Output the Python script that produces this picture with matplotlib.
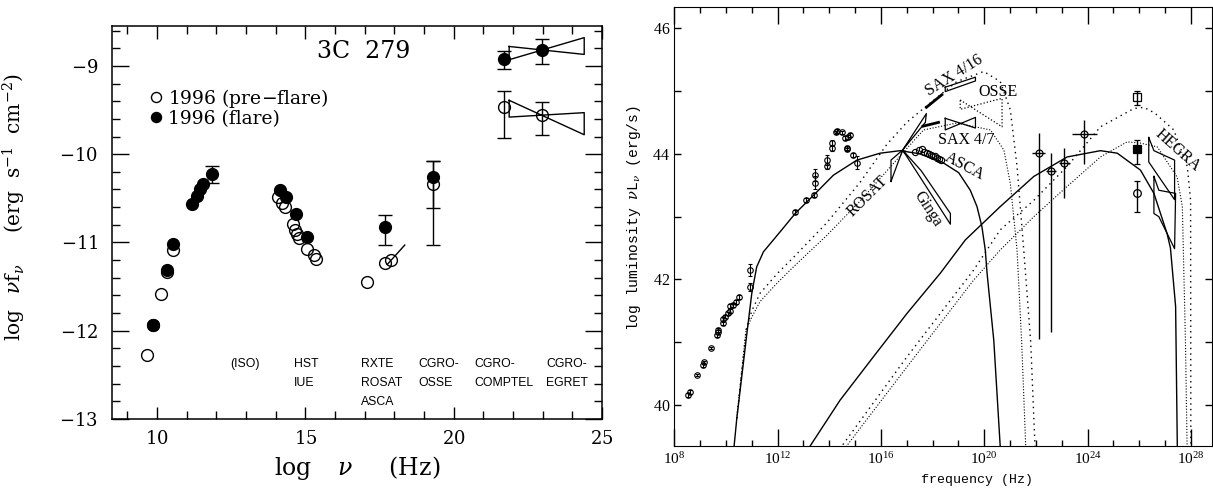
import numpy as np
import matplotlib.pyplot as plt
from matplotlib.ticker import MultipleLocator, FixedLocator, LogLocator, NullFormatter, FuncFormatter, LogFormatterMathtext

plt.rcParams['mathtext.fontset'] = 'dejavuserif'
plt.rcParams['axes.formatter.use_mathtext'] = True

# ---------------- left panel: 3C 279, log nu vs log nu f_nu ----------------
pre_x = [9.67, 9.88, 10.14, 10.33, 10.55, 14.08, 14.20, 14.30, 14.57, 14.66, 14.72, 14.77,
         15.06, 15.28, 15.36, 17.07, 17.68, 17.87, 19.30, 21.68, 22.99]
pre_y = [-12.27, -11.94, -11.58, -11.33, -11.08, -10.48, -10.55, -10.60, -10.79, -10.86, -10.91, -10.95,
         -11.07, -11.14, -11.19, -11.45, -11.23, -11.20, -10.34, -9.47, -9.56]
flare_x = [9.88, 10.33, 10.55, 11.17, 11.34, 11.46, 11.56, 11.85, 14.13, 14.36, 14.69, 15.06,
           17.68, 19.30, 21.68, 22.99]
flare_y = [-11.93, -11.31, -11.02, -10.57, -10.47, -10.40, -10.34, -10.22, -10.41, -10.49, -10.68, -10.94,
           -10.83, -10.26, -8.92, -8.82]

# error bars (centre, low, high)
flare_err_x = [11.85, 17.68, 19.30, 21.68, 22.99]
flare_err_y = [-10.22, -10.83, -10.26, -8.92, -8.82]
flare_err_lo = [-10.33, -11.03, -10.61, -9.04, -8.98]
flare_err_hi = [-10.13, -10.69, -10.08, -8.83, -8.70]
pre_err_x = [19.30, 21.68, 22.99]
pre_err_y = [-10.34, -9.47, -9.56]
pre_err_lo = [-11.03, -9.82, -9.78]
pre_err_hi = [-10.08, -9.29, -9.41]

# EGRET bowties: two edge lines between x ends
bow_x = [21.87, 24.40]
flare_bow_a = [-8.78, -8.87]
flare_bow_b = [-8.93, -8.68]
pre_bow_a = [-9.39, -9.78]
pre_bow_b = [-9.58, -9.53]

# ASCA spectral slope
asca_x = [17.76, 18.35]
asca_y = [-11.25, -11.03]

inst_labels = ['(ISO)', 'HST\nIUE', 'RXTE\nROSAT\nASCA', 'CGRO-\nOSSE', 'CGRO-\nCOMPTEL', 'CGRO-\nEGRET']
inst_x = [12.47, 14.61, 16.89, 18.81, 20.71, 23.11]

# ---------------- right panel: log frequency vs log luminosity ----------------
lowf_lx = [8.54, 8.61, 8.87, 9.12, 9.15, 9.42, 9.67, 9.69, 9.71, 9.90, 9.90, 9.97, 10.09, 10.16,
           10.16, 10.29, 10.39, 10.50, 10.95, 10.95, 12.68, 13.09, 13.39, 13.45, 13.45, 13.93,
           13.93, 14.10, 14.12, 14.26, 14.30, 14.49, 14.62, 14.74, 14.81, 14.68, 14.70, 14.90, 15.07]
lowf_y = [40.16, 40.21, 40.48, 40.64, 40.68, 40.91, 41.11, 41.16, 41.19, 41.30, 41.37, 41.41, 41.46,
          41.50, 41.58, 41.59, 41.64, 41.72, 41.88, 42.15, 43.08, 43.26, 43.34, 43.54, 43.66, 43.81,
          43.90, 44.09, 44.18, 44.34, 44.36, 44.34, 44.25, 44.27, 44.30, 44.09, 44.07, 43.98, 43.86]
lowf_err = [0.03, 0.03, 0.02, 0.03, 0.03, 0.02, 0.03, 0.03, 0.03, 0.03, 0.03, 0.03, 0.03, 0.03,
            0.03, 0.03, 0.03, 0.03, 0.06, 0.09, 0.03, 0.03, 0.03, 0.10, 0.10, 0.05,
            0.08, 0.04, 0.04, 0.03, 0.03, 0.03, 0.03, 0.03, 0.03, 0.03, 0.03, 0.03, 0.10]

asca_pts_lx = [17.33, 17.46, 17.59, 17.68, 17.78, 17.86, 17.94, 18.02, 18.09, 18.17, 18.25, 18.33]
asca_pts_y = [44.03, 44.06, 44.08, 44.03, 44.02, 44.00, 43.98, 43.97, 43.96, 43.94, 43.92, 43.90]

he_lx = [22.11, 22.60, 23.10, 23.88]
he_y = [44.02, 43.73, 43.86, 44.32]
he_ylo = [41.06, 41.17, 43.29, 43.83]
he_yhi = [44.33, 44.02, 44.09, 44.54]
he_dx = [0.26, 0.19, 0.22, 0.50]

tev_lx = [25.91, 25.91, 25.91]
tev_y = [44.90, 44.07, 43.38]
tev_ylo = [44.78, 43.83, 43.08]
tev_yhi = [45.00, 44.22, 43.56]

# model curves
sync_lx = [10.28, 10.42, 10.81, 11.0, 11.19, 11.45, 12.1, 12.68, 13.39, 14.16, 15.07, 15.97, 16.75,
           17.5, 18.36, 19.01, 19.46, 19.72, 19.91, 20.04, 20.11, 20.37, 20.64]
sync_y = [39.2, 39.79, 41.14, 41.78, 42.2, 42.44, 42.76, 43.05, 43.34, 43.66, 43.90, 44.01, 44.05,
          44.0, 43.87, 43.70, 43.42, 43.16, 42.84, 42.47, 42.10, 41.03, 39.2]
comp_lx = [13.18, 14.42, 15.71, 17.01, 18.3, 19.27, 20.62, 21.92, 23.21, 24.5, 25.15, 26.05, 26.57,
           27.08, 27.21, 27.41, 27.48]
comp_y = [39.3, 40.08, 40.77, 41.46, 42.1, 42.63, 43.16, 43.64, 43.95, 44.05, 44.01, 43.74, 43.37,
          42.73, 42.5, 41.57, 39.2]
sync_a_lx = [10.42, 10.78, 11.0, 11.32, 12.0, 12.61, 13.9, 15.2, 16.23, 17.0, 17.76, 18.94, 19.98,
             20.62, 21.01, 21.27, 21.53, 21.8, 21.98]
sync_a_y = [39.79, 41.2, 41.5, 41.78, 42.1, 42.35, 42.9, 43.55, 44.15, 44.5, 44.76, 45.15, 45.31,
            45.15, 44.7, 43.8, 42.47, 41.0, 39.2]
sync_b_lx = [10.42, 10.78, 11.0, 11.32, 12.0, 12.61, 13.9, 15.2, 16.49, 17.65, 18.94, 20.24, 20.76,
             21.01, 21.27, 21.45, 21.62]
sync_b_y = [39.79, 41.2, 41.4, 41.65, 41.95, 42.2, 42.7, 43.25, 43.85, 44.38, 44.49, 44.38, 44.06,
            43.53, 42.47, 41.0, 39.2]
comp_a_lx = [14.4, 17.01, 19.59, 20.62, 21.92, 23.21, 24.5, 25.79, 26.18, 26.6, 27.34, 27.86, 27.99, 28.0]
comp_a_y = [39.3, 40.77, 42.15, 42.79, 43.26, 43.8, 44.43, 44.72, 44.74, 44.65, 44.38, 43.8, 43.26, 39.2]
comp_b_lx = [14.58, 17.01, 19.59, 20.62, 21.92, 23.21, 24.5, 25.53, 26.05, 26.7, 27.47, 27.67, 27.79, 27.86]
comp_b_y = [39.3, 40.61, 41.99, 42.47, 43.0, 43.48, 43.95, 44.19, 44.17, 44.11, 43.63, 43.16, 41.03, 39.2]

# spectral shapes (closed outlines)
rosat_lx = [16.39, 16.84, 17.76, 17.72, 16.84, 16.39, 16.39]
rosat_y = [43.56, 44.06, 44.64, 44.50, 44.06, 43.90, 43.56]
ginga_lx = [16.84, 18.69, 18.69, 17.56, 16.84]
ginga_y = [44.06, 42.88, 43.05, 43.73, 44.06]
sax16_lx = [18.49, 19.66, 19.66, 18.49, 18.49]
sax16_y = [45.06, 45.22, 45.16, 44.99, 45.06]
sax16_seg_lx = [17.76, 18.36]
sax16_seg_y = [44.74, 44.94]
sax7_lx = [18.49, 19.66, 19.66, 18.49, 18.49]
sax7_y = [44.565, 44.41, 44.58, 44.38, 44.565]
sax7_seg_lx = [17.63, 18.23]
sax7_seg_y = [44.44, 44.50]
osse_lx = [19.07, 20.69, 20.69, 19.07, 19.07]
osse_y = [44.857, 44.43, 44.883, 44.708, 44.857]
hegra1_lx = [26.37, 26.57, 27.37, 27.37, 26.37, 26.37]
hegra1_y = [44.26, 44.05, 43.90, 43.27, 43.87, 44.26]
hegra2_lx = [26.57, 26.76, 27.41, 27.37, 26.76, 26.57, 26.57]
hegra2_y = [43.64, 43.42, 43.37, 42.49, 43.00, 43.05, 43.64]

labels_r = ['SAX 4/16', 'OSSE', 'SAX 4/7', 'ASCA', 'ROSAT', 'Ginga', 'HEGRA']
labels_r_lx = [18.85, 20.55, 19.30, 19.25, 15.50, 17.80, 27.50]
labels_r_y = [45.25, 44.99, 44.22, 43.80, 43.33, 43.13, 44.05]
labels_r_rot = [32, 0, 0, -28, 45, -57, -42]

fig = plt.figure(figsize=(12.13, 4.88), dpi=100)

# ======== left ========
ax1 = fig.add_axes([0.0923, 0.1414, 0.404, 0.805])
ax1.plot(pre_x, pre_y, 'o', ms=8.5, mfc='none', mec='black', mew=1.0, label='1996 (pre$-$flare)', zorder=3)
ax1.plot(flare_x, flare_y, 'o', ms=8.5, mfc='black', mec='black', label='1996 (flare)', zorder=4)
fy = np.array(flare_err_y)
ax1.errorbar(flare_err_x, fy, yerr=[fy - np.array(flare_err_lo), np.array(flare_err_hi) - fy],
             fmt='none', ecolor='black', elinewidth=1, capsize=5, capthick=1)
py = np.array(pre_err_y)
ax1.errorbar(pre_err_x, py, yerr=[py - np.array(pre_err_lo), np.array(pre_err_hi) - py],
             fmt='none', ecolor='black', elinewidth=1, capsize=5, capthick=1)
for a, b in [(flare_bow_a, flare_bow_b), (pre_bow_a, pre_bow_b)]:
    ax1.plot([bow_x[0], bow_x[1], bow_x[1], bow_x[0], bow_x[0]],
             [a[0], a[1], b[1], b[0], a[0]], color='black', lw=1)
ax1.plot(asca_x, asca_y, color='black', lw=1)

ax1.text(16.97, -8.84, '3C  279', family='DejaVu Serif', fontsize=17, ha='center', va='center')
for lab, x in zip(inst_labels, inst_x):
    ax1.text(x, -12.31, lab, family='Liberation Sans', fontsize=8.8, ha='left', va='top', linespacing=1.75)

ax1.legend(loc='upper left', bbox_to_anchor=(0.072, 0.845), frameon=False, handletextpad=0.2,
           labelspacing=0.0, handlelength=0.9, borderaxespad=0, borderpad=0,
           prop={'family': 'DejaVu Serif', 'size': 13.5}, markerscale=0.85)

ax1.set_xlim(8.48, 25)
ax1.set_ylim(-13, -8.55)
ax1.xaxis.set_major_locator(MultipleLocator(5))
ax1.xaxis.set_minor_locator(MultipleLocator(1))
ax1.yaxis.set_major_locator(MultipleLocator(1))
ax1.yaxis.set_minor_locator(MultipleLocator(0.2))
ax1.xaxis.set_major_formatter(FuncFormatter(lambda v, p: r'$%d$' % round(v)))
ax1.yaxis.set_major_formatter(FuncFormatter(lambda v, p: r'$%d$' % round(v)))
ax1.tick_params(which='both', direction='in', top=True, right=True, labelsize=13, width=1)
ax1.tick_params(axis='x', which='major', length=9, pad=8)
ax1.tick_params(axis='y', which='major', length=12, pad=10)
ax1.tick_params(which='minor', length=5.5)
for s in ax1.spines.values():
    s.set_linewidth(1.1)
ax1.set_xlabel(r'$\log\ \ \ \nu\ \ \ \ \ (\mathrm{Hz})$', fontsize=17, labelpad=4)
ax1.set_ylabel(r'$\log\ \ \nu \mathrm{f}_\nu\ \ \ \ \ (\mathrm{erg\ \ s^{-1}\ \ cm^{-2}})$', fontsize=14.5)
ax1.yaxis.set_label_coords(-0.172, 0.54)

# ======== right ========
ax2 = fig.add_axes([0.5559, 0.0861, 0.4433, 0.900])
ax2.set_xscale('log')
k = dict(color='black', lw=1.0)
ax2.plot(10.0 ** np.array(sync_lx), sync_y, **k)
ax2.plot(10.0 ** np.array(comp_lx), comp_y, **k)
ax2.plot(10.0 ** np.array(sync_a_lx), sync_a_y, color='black', lw=1.0, ls=(0, (1, 3)))
ax2.plot(10.0 ** np.array(sync_b_lx), sync_b_y, color='black', lw=0.8, ls=(0, (1, 1.6)))
ax2.plot(10.0 ** np.array(comp_a_lx), comp_a_y, color='black', lw=1.0, ls=(0, (1, 3)))
ax2.plot(10.0 ** np.array(comp_b_lx), comp_b_y, color='black', lw=0.8, ls=(0, (1, 1.6)))

ax2.errorbar(10.0 ** np.array(lowf_lx), lowf_y, yerr=lowf_err, fmt='o', ms=4, mfc='none', mec='black',
             mew=0.8, ecolor='black', elinewidth=0.8, capsize=1.5)
ax2.plot(10.0 ** np.array(asca_pts_lx), asca_pts_y, 'o', ms=4.5, mfc='none', mec='black', mew=0.8)

hx = np.array(he_lx)
hy = np.array(he_y)
hd = np.array(he_dx)
ax2.errorbar(10.0 ** hx, hy,
             xerr=[10.0 ** hx - 10.0 ** (hx - hd), 10.0 ** (hx + hd) - 10.0 ** hx],
             yerr=[hy - np.array(he_ylo), np.array(he_yhi) - hy],
             fmt='o', ms=5, mfc='none', mec='black', mew=0.9, ecolor='black', elinewidth=1.0, capsize=0)
ty = np.array(tev_y)
tyerr = [ty - np.array(tev_ylo), np.array(tev_yhi) - ty]
tmark = ['s', 's', 'o']
tfill = ['none', 'black', 'none']
for i in range(3):
    ax2.errorbar([10.0 ** tev_lx[i]], [tev_y[i]], yerr=[[tyerr[0][i]], [tyerr[1][i]]], fmt=tmark[i],
                 ms=5.5, mfc=tfill[i], mec='black', mew=0.9, ecolor='black', elinewidth=1.0, capsize=2)

for lx, yy, st in [(rosat_lx, rosat_y, '-'), (ginga_lx, ginga_y, '-'), (sax16_lx, sax16_y, '-'),
                   (sax7_lx, sax7_y, '-'), (osse_lx, osse_y, ':'), (hegra1_lx, hegra1_y, '-'),
                   (hegra2_lx, hegra2_y, '-')]:
    ax2.plot(10.0 ** np.array(lx), yy, color='black', lw=0.9, ls=st)
ax2.plot(10.0 ** np.array(sax16_seg_lx), sax16_seg_y, color='black', lw=2.0)
ax2.plot(10.0 ** np.array(sax7_seg_lx), sax7_seg_y, color='black', lw=2.0)

for lab, lx, yy, r in zip(labels_r, labels_r_lx, labels_r_y, labels_r_rot):
    ax2.text(10.0 ** lx, yy, lab, family='Liberation Serif', fontsize=11.5, rotation=r,
             ha='center', va='center', rotation_mode='anchor')

ax2.set_xlim(1e8, 10.0 ** 28.82)
ax2.set_ylim(39.35, 46.34)
ax2.xaxis.set_major_locator(FixedLocator(10.0 ** np.array([8, 12, 16, 20, 24, 28])))
ax2.xaxis.set_minor_locator(LogLocator(base=10, subs=(1.0,), numticks=40))
ax2.xaxis.set_minor_formatter(NullFormatter())
ax2.xaxis.set_major_formatter(LogFormatterMathtext())
ax2.yaxis.set_major_locator(MultipleLocator(2))
ax2.yaxis.set_minor_locator(MultipleLocator(1))
ax2.tick_params(which='both', direction='in', top=True, right=True, width=1)
ax2.tick_params(axis='x', which='major', length=12.5, pad=4, labelsize=11)
ax2.tick_params(axis='x', which='minor', length=4.5)
ax2.tick_params(axis='y', which='both', length=5, pad=3, labelsize=11.5)
for t in ax2.get_xticklabels() + ax2.get_yticklabels():
    t.set_family('Liberation Serif')
ax2.set_xlabel('frequency (Hz)', family='Liberation Mono', fontsize=9.5, labelpad=1)
ax2.xaxis.set_label_coords(0.563, -0.063)
ax2.set_ylabel(r'log luminosity $\nu$L$_\nu$ (erg/s)', family='Liberation Mono', fontsize=10.5)
ax2.yaxis.set_label_coords(-0.058, 0.52)

plt.savefig('out.png', dpi=100)
